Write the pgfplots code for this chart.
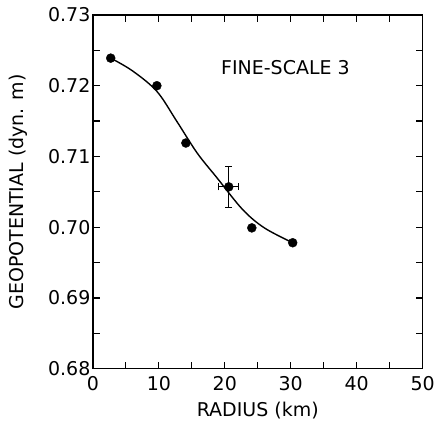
\documentclass[border=0pt]{standalone}
\usepackage{pgfplots}
\pgfplotsset{compat=1.18}
\usepackage{fontspec}
\setmainfont{DejaVu Sans}
\begin{document}
\begin{tikzpicture}
\begin{axis}[
  scale only axis,
  width=330pt, height=354pt,
  xmin=0, xmax=50, ymin=0.68, ymax=0.73,
  xtick={0,10,...,50},
  minor xtick={5,15,...,45},
  ytick={0.68,0.69,...,0.73},
  minor ytick={0.685,0.695,...,0.725},
  tick align=inside,
  major tick length=7pt, minor tick length=7pt,
  every tick/.style={black, line width=1.2pt},
  axis line style={line width=1.4pt},
  tick label style={font=\fontsize{19}{19}\selectfont},
  yticklabel style={xshift=1pt, /pgf/number format/.cd, fixed, fixed zerofill, precision=2},
  xticklabel style={yshift=-4pt},
  /pgf/number format/assume math mode=true,
  xlabel={RADIUS (km)},
  ylabel={GEOPOTENTIAL (dyn. m)},
  every axis x label/.style={at={(axis description cs:0.5,-0.1186)}, anchor=center, font=\fontsize{19}{19}\selectfont},
  every axis y label/.style={at={(axis description cs:-0.227,0.5)}, anchor=center, rotate=90, font=\fontsize{19}{19}\selectfont},
  clip=false,
]
\addplot[black, line width=1.4pt, smooth, tension=0.55] coordinates {
  (2.7,0.7239) (6,0.7221) (9.7,0.7192) (12.7,0.7150) (15.8,0.7105)
  (18.8,0.7070) (22.7,0.7025) (26,0.6999) (30.3,0.6978)
};
\addplot[only marks, mark=*, mark size=4.5pt, black] coordinates {
  (2.7,0.7239) (9.7,0.7200) (14.1,0.7119) (24.1,0.6999) (30.3,0.6978)
};
\addplot[only marks, mark=*, mark size=4.5pt, black,
  error bars/.cd, x dir=both, y dir=both, x explicit, y explicit,
  error bar style={line width=1.2pt},
  error mark options={rotate=90, mark size=3.5pt, line width=1.2pt}]
  coordinates {
  (20.6,0.7057) +- (1.5,0.0029)
};
\node[font=\fontsize{19}{19}\selectfont] at (axis cs:29.2,0.7225) {FINE-SCALE 3};
\path (rel axis cs:0,0) ++(-93pt,-58pt) rectangle ++(438pt,427pt);
\end{axis}
\end{tikzpicture}
\end{document}
